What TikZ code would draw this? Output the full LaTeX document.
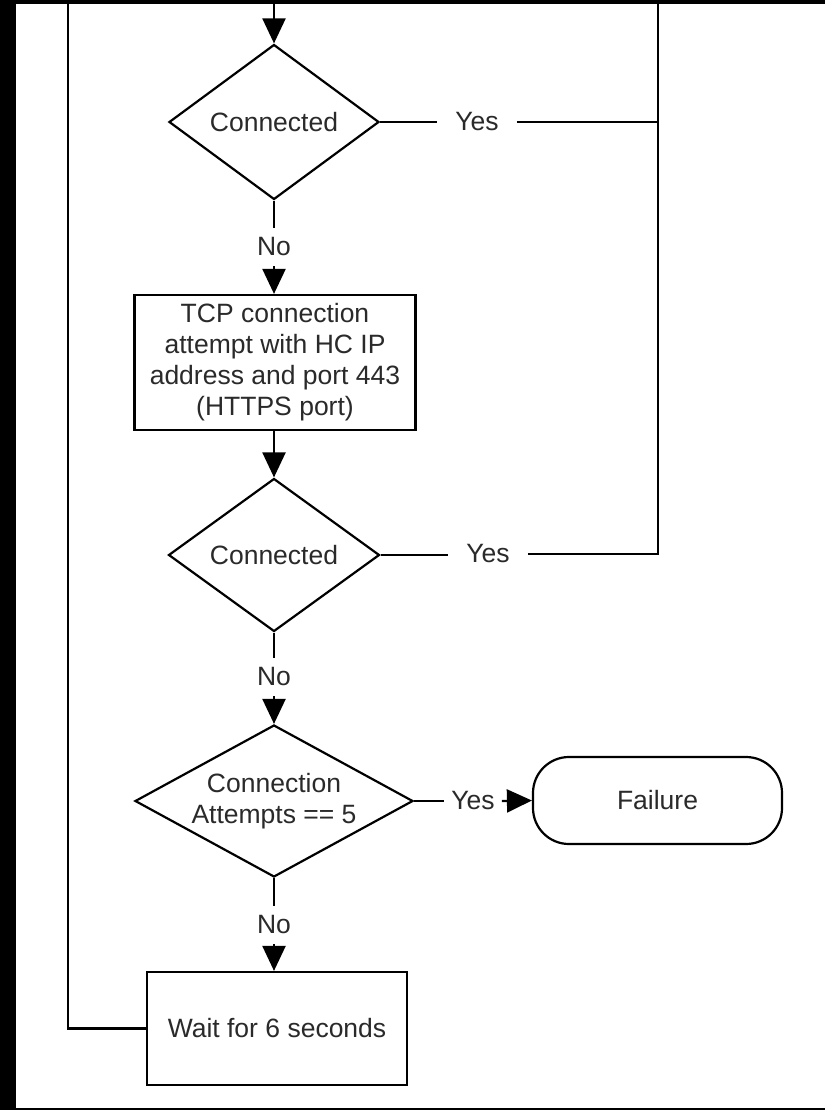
\documentclass[tikz,border=0pt]{standalone}
\usepackage{fontspec}
\setmainfont{Liberation Sans}
\usetikzlibrary{shapes.geometric,arrows.meta}
\definecolor{txt}{HTML}{2A2A2A}
\newcommand\figfont{\fontsize{26.5pt}{31pt}\selectfont}
\begin{document}
\begin{tikzpicture}[x=1pt,y=-1pt,
  conn/.style={line width=2.2pt, draw=black},
  arr/.style={conn, -{Triangle[length=25pt,width=23pt]}},
  decision/.style={diamond, draw=black, line width=2.2pt, inner sep=0pt, font=\figfont, text=txt, align=center},
  procbox/.style={rectangle, draw=black, line width=2.2pt, inner sep=0pt, font=\figfont, text=txt, align=center},
  termbox/.style={rectangle, rounded corners=36pt, draw=black, line width=2.2pt, inner sep=0pt, font=\figfont, text=txt, align=center},
  lbl/.style={font=\figfont, text=txt, inner xsep=18pt, inner ysep=10pt},
  lblshort/.style={lbl, inner xsep=7pt}
]
\fill[black] (0,0) rectangle (825,1110);
\fill[white] (16,4) rectangle (825,1108);
\useasboundingbox (0,0) rectangle (825,1110);

% nodes
\node[decision, aspect=1.35, minimum width=210pt, minimum height=155pt] (d1) at (274,122) {Connected};
\node[procbox, minimum width=281pt, minimum height=135pt] (b1) at (275,362.5)
  {TCP connection\\attempt with HC IP\\address and port 443\\(HTTPS port)};
\node[decision, aspect=1.38, minimum width=211pt, minimum height=153pt] (d2) at (274,555) {Connected};
\node[decision, aspect=1.83, minimum width=278pt, minimum height=152pt] (d3) at (274,801) {Connection\\Attempts == 5};
\node[termbox, minimum width=249pt, minimum height=87pt] (fail) at (657.5,800.5) {Failure};
\node[procbox, minimum width=260pt, minimum height=113pt] (b2) at (277,1028.5) {Wait for 6 seconds};

% labels
\node[lbl] (yes1) at (477,122) {Yes};
\node[lbl] (yes2) at (488,554) {Yes};
\node[lblshort] (yes3) at (473,801) {Yes};
\node[lbl] (no1) at (274,247) {No};
\node[lbl] (no2) at (274,677) {No};
\node[lbl] (no3) at (274,925) {No};

% free ends
\coordinate (top1) at (274,4);
\coordinate (ltop) at (68,4);
\coordinate (rtop) at (658,4);
\coordinate (rj) at (658,554);

% connectors
\draw[arr] (top1) -- (d1.north);
\draw[conn] (d1.south) -- (no1.north);
\draw[arr] (no1.south) -- (no1.south |- b1.north);
\draw[arr] (d2.north |- b1.south) -- (d2.north);
\draw[conn] (d2.south) -- (no2.north);
\draw[arr] (no2.south) -- (d3.north);
\draw[conn] (d3.south) -- (no3.north);
\draw[arr] (no3.south) -- (no3.south |- b2.north);

\draw[conn] (d1.east) -- (yes1.west);
\draw[conn] (yes1.east) -- (yes1.east -| rj);
\draw[conn] (d2.east) -- (d2.east -| yes2.west);
\draw[conn] (yes2.east) -- (rj) -- (rtop);
\draw[conn] (d3.east) -- (yes3.west);
\draw[arr] (yes3.east) -- (fail.west);

\draw[conn] (b2.west) -| (ltop);
\end{tikzpicture}
\end{document}
